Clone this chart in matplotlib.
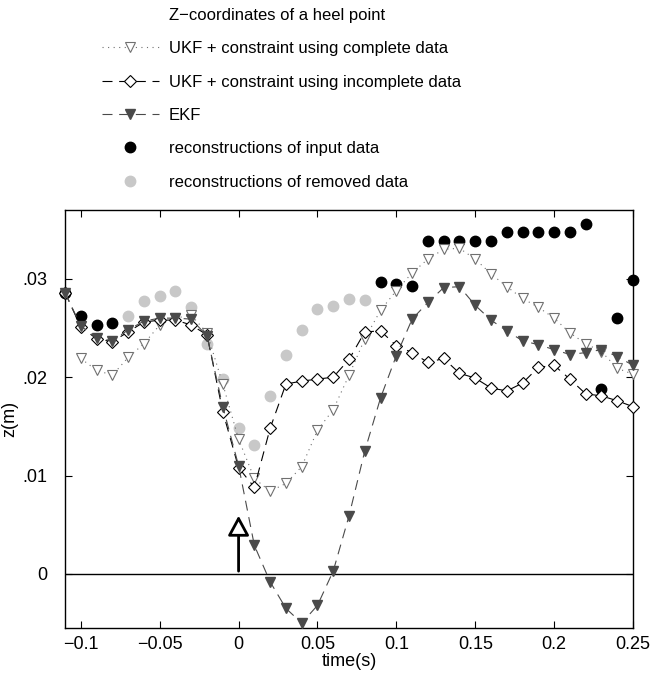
import numpy as np
import matplotlib
matplotlib.use('Agg')
from matplotlib import pyplot as plt
from matplotlib.lines import Line2D

plt.rcParams['font.family'] = ['Liberation Sans', 'DejaVu Sans']

# UKF + constraint, complete data (open triangles, dotted)
t_ukf = [-0.10, -0.09, -0.08, -0.07, -0.06, -0.05, -0.04, -0.03, -0.02, -0.01,
         0.00, 0.01, 0.02, 0.03, 0.04, 0.05, 0.06, 0.07, 0.08, 0.09, 0.10,
         0.11, 0.12, 0.13, 0.14, 0.15, 0.16, 0.17, 0.18, 0.19, 0.20, 0.21,
         0.22, 0.23, 0.24, 0.25]
z_ukf = [0.0219, 0.0207, 0.0202, 0.0220, 0.0234, 0.0253, 0.0260, 0.0263, 0.0245, 0.0193,
         0.0137, 0.0097, 0.0084, 0.0092, 0.0109, 0.0146, 0.0167, 0.0202, 0.0239, 0.0268, 0.0288,
         0.0306, 0.0320, 0.0330, 0.0331, 0.0320, 0.0305, 0.0292, 0.0280, 0.0271, 0.0260, 0.0245,
         0.0234, 0.0226, 0.0209, 0.0203]

# UKF + constraint, incomplete data (open diamonds, dashed)
t_inc = [-0.11, -0.10, -0.09, -0.08, -0.07, -0.06, -0.05, -0.04, -0.03, -0.02, -0.01,
         0.00, 0.01, 0.02, 0.03, 0.04, 0.05, 0.06, 0.07, 0.08, 0.09, 0.10,
         0.11, 0.12, 0.13, 0.14, 0.15, 0.16, 0.17, 0.18, 0.19, 0.20, 0.21,
         0.22, 0.23, 0.24, 0.25]
z_inc = [0.0286, 0.0251, 0.0239, 0.0236, 0.0246, 0.0256, 0.0258, 0.0258, 0.0253, 0.0243, 0.0165,
         0.0108, 0.0088, 0.0148, 0.0193, 0.0196, 0.0198, 0.0200, 0.0218, 0.0246, 0.0247, 0.0232,
         0.0225, 0.0215, 0.0219, 0.0204, 0.0199, 0.0189, 0.0186, 0.0194, 0.0210, 0.0212, 0.0198,
         0.0183, 0.0181, 0.0176, 0.0170]

# EKF (filled triangles, dashed)
t_ekf = t_inc
z_ekf = [0.0286, 0.0252, 0.0240, 0.0237, 0.0248, 0.0257, 0.0260, 0.0260, 0.0259, 0.0242, 0.0170,
         0.0110, 0.0029, -0.0008, -0.0035, -0.0050, -0.0032, 0.0003, 0.0059, 0.0125, 0.0179, 0.0222,
         0.0259, 0.0276, 0.0291, 0.0292, 0.0273, 0.0258, 0.0247, 0.0237, 0.0233, 0.0228, 0.0223,
         0.0225, 0.0228, 0.0221, 0.0212]

# reconstructions of input data (black dots)
t_inp = [-0.11, -0.10, -0.09, -0.08, 0.09, 0.10, 0.11, 0.12, 0.13, 0.14, 0.15, 0.16,
         0.17, 0.18, 0.19, 0.20, 0.21, 0.22, 0.23, 0.24, 0.25]
z_inp = [0.0286, 0.0262, 0.0253, 0.0255, 0.0297, 0.0295, 0.0293, 0.0338, 0.0338, 0.0338, 0.0338, 0.0338,
         0.0348, 0.0348, 0.0348, 0.0348, 0.0348, 0.0356, 0.0188, 0.0260, 0.0299]

# reconstructions of removed data (grey dots)
t_rem = [-0.07, -0.06, -0.05, -0.04, -0.03, -0.02, -0.01, 0.00, 0.01, 0.02, 0.03,
         0.04, 0.05, 0.06, 0.07, 0.08]
z_rem = [0.0262, 0.0277, 0.0283, 0.0288, 0.0271, 0.0234, 0.0198, 0.0148, 0.0131, 0.0181, 0.0223,
         0.0248, 0.0269, 0.0272, 0.0279, 0.0278]

xticks = [-0.1, -0.05, 0, 0.05, 0.1, 0.15, 0.2, 0.25]
xticklabels = ['\u22120.1', '\u22120.05', '0', '0.05', '0.1', '0.15', '0.2', '0.25']
yticks = [0, 0.01, 0.02, 0.03]
yticklabels = ['0', '.01', '.02', '.03']

fig = plt.figure(figsize=(6.56, 6.86), dpi=100)
ax = fig.add_axes([0.0991, 0.0845, 0.8659, 0.6095])

ax.plot(t_rem, z_rem, linestyle='none', marker='o', markersize=7.5,
        markerfacecolor='#c8c8c8', markeredgecolor='#c8c8c8', zorder=2, clip_on=False)
ax.plot(t_inp, z_inp, linestyle='none', marker='o', markersize=7.5,
        markerfacecolor='black', markeredgecolor='black', zorder=2, clip_on=False)
ax.plot(t_ukf, z_ukf, linestyle=(0, (1, 4)), color='#707070', linewidth=0.8,
        marker='v', markersize=7, markerfacecolor='white', markeredgecolor='#707070',
        markeredgewidth=0.8, zorder=3, clip_on=False)
ax.plot(t_inc, z_inc, linestyle=(0, (9, 6)), color='black', linewidth=0.8,
        marker='D', markersize=6, markerfacecolor='white', markeredgecolor='black',
        markeredgewidth=0.8, zorder=4, clip_on=False)
ax.plot(t_ekf, z_ekf, linestyle=(0, (9, 6)), color='#4a4a4a', linewidth=0.8,
        marker='v', markersize=7.5, markerfacecolor='#4a4a4a', markeredgecolor='#4a4a4a',
        zorder=5, clip_on=False)

ax.axhline(0, color='black', linewidth=1.0, zorder=1)
ax.annotate('', xy=(0, 0.0062), xytext=(0, 0),
            arrowprops=dict(arrowstyle='-|>,head_length=1.2,head_width=0.65',
                            facecolor='white', edgecolor='black', linewidth=2),
            zorder=6)

ax.set_xlim(-0.11, 0.25)
ax.set_ylim(-0.0055, 0.037)
ax.set_xticks(xticks)
ax.set_xticklabels(xticklabels)
ax.set_yticks(yticks)
ax.set_yticklabels(yticklabels)
ax.tick_params(direction='in', top=True, right=True, length=5, labelsize=13)
ax.tick_params(axis='x', pad=6)
ax.tick_params(axis='y', pad=13)
for s in ax.spines.values():
    s.set_linewidth(1.0)
ax.set_xlabel('time(s)', fontsize=13, labelpad=0)
ax.set_ylabel('z(m)', fontsize=13)
ax.yaxis.set_label_coords(-0.082, 0.5)

handles = [
    Line2D([], [], linestyle='none'),
    Line2D([], [], linestyle=(0, (1, 4)), color='#707070', linewidth=0.8, marker='v',
           markersize=7, markerfacecolor='white', markeredgecolor='#707070', markeredgewidth=0.8),
    Line2D([], [], linestyle=(0, (9, 6)), color='black', linewidth=0.8, marker='D',
           markersize=6, markerfacecolor='white', markeredgecolor='black', markeredgewidth=0.8),
    Line2D([], [], linestyle=(0, (9, 6)), color='#4a4a4a', linewidth=0.8, marker='v',
           markersize=7.5, markerfacecolor='#4a4a4a', markeredgecolor='#4a4a4a'),
    Line2D([], [], linestyle='none', marker='o', markersize=7.5, color='black'),
    Line2D([], [], linestyle='none', marker='o', markersize=7.5, color='#c8c8c8'),
]
labels = ['Z\u2212coordinates of a heel point',
          'UKF + constraint using complete data',
          'UKF + constraint using incomplete data',
          'EKF',
          'reconstructions of input data',
          'reconstructions of removed data']
fig.legend(handles, labels, loc='upper left', bbox_to_anchor=(0.14, 1.003),
           frameon=False, fontsize=12, handlelength=3.4, handletextpad=0.6,
           labelspacing=1.1, borderaxespad=0.2)

fig.savefig('out.png', dpi=100)
